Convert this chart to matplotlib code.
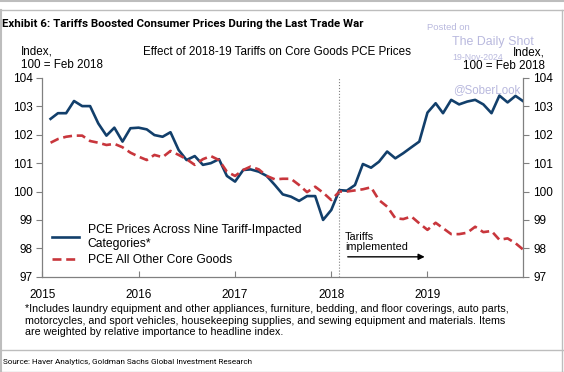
import matplotlib
matplotlib.use("Agg")
import matplotlib.pyplot as plt
from matplotlib import font_manager
import pandas as pd

# monthly data, Feb 2015 .. Jan 2020 (index, Feb 2018 = 100)
start_month = "2015-02-01"
tariff_impacted = [
    102.56, 102.76, 102.76, 103.19, 103.01, 103.01, 102.40, 101.97, 102.25, 101.76, 102.23,
    102.25, 102.19, 101.99, 101.93, 102.09, 101.46, 101.11, 101.25, 100.94, 101.00, 101.14, 100.55,
    100.35, 100.76, 100.78, 100.70, 100.55, 100.23, 99.90, 99.82, 99.67, 99.84, 99.84, 99.00,
    99.35, 100.05, 100.03, 100.23, 100.97, 100.84, 101.05, 101.41, 101.17, 101.35, 101.56, 101.76,
    102.78, 103.11, 102.76, 103.23, 103.07, 103.17, 103.23, 103.07, 102.76, 103.38, 103.14, 103.37,
    103.17,
]
other_core = [
    101.72, 101.85, 101.93, 101.97, 101.97, 101.78, 101.72, 101.64, 101.68, 101.56, 101.37,
    101.23, 101.11, 101.29, 101.21, 101.43, 101.29, 101.14, 100.94, 101.14, 101.25, 101.11, 100.70,
    100.55, 100.76, 100.88, 100.78, 100.55, 100.43, 100.45, 100.45, 100.23, 99.98, 100.17, 99.96,
    99.70, 100.00, 100.00, 100.04, 100.08, 100.15, 99.70, 99.47, 99.06, 99.03, 99.12, 98.88,
    98.65, 98.90, 98.71, 98.50, 98.50, 98.55, 98.76, 98.57, 98.61, 98.30, 98.35, 98.18,
    97.94,
]
labels = ["PCE Prices Across Nine Tariff-Impacted\nCategories*", "PCE All Other Core Goods"]
year_ticks = ["2015", "2016", "2017", "2018", "2019"]
y_ticks = [97, 98, 99, 100, 101, 102, 103, 104]
tariff_date = "2018-02-01"

dates = pd.date_range(start_month, periods=len(tariff_impacted), freq="MS")

names = {f.name for f in font_manager.fontManager.ttflist}
narrow = "Roboto" if "Roboto" in names else "DejaVu Sans"
plt.rcParams["font.family"] = ["Liberation Sans", "DejaVu Sans"]

W, H = 564, 372
fig = plt.figure(figsize=(W / 100, H / 100), dpi=100)


def px(x, y):
    return x / W, 1 - y / H


def fit(t, width_px):
    # shrink/grow a text until it covers the width seen in the reference
    r = fig.canvas.get_renderer()
    w = t.get_window_extent(r).width
    t.set_fontsize(t.get_fontsize() * width_px / w)


ax = fig.add_axes([42.4 / W, 1 - 276.7 / H, 481 / W, 198.7 / H])

blue = "#123f6b"
red = "#c8363c"
ax.plot(dates, tariff_impacted, color=blue, lw=1.9, label=labels[0])
ax.plot(dates, other_core, color=red, lw=1.9, dashes=(3.4, 1.8), label=labels[1])
ax.axvline(pd.Timestamp(tariff_date), color="#808080", lw=0.8, ls=":")

ax.set_xlim(pd.Timestamp("2015-01-01"), pd.Timestamp("2019-12-31"))
ax.set_ylim(97, 104)
ax.set_yticks(y_ticks)
ax.set_xticks([pd.Timestamp(y + "-01-01") for y in year_ticks])
ax.set_xticklabels(year_ticks)
ax.tick_params(axis="x", direction="in", length=4, color="#808080", labelsize=8.5, pad=9)
ax.tick_params(axis="y", direction="out", length=4, color="#808080", labelsize=8.5,
               left=True, right=True, labelleft=True, labelright=True, pad=3)
ax.spines["top"].set_visible(False)
for s in ["left", "right", "bottom"]:
    ax.spines[s].set_color("#808080")
    ax.spines[s].set_linewidth(0.9)

ax.legend(loc="lower left", bbox_to_anchor=(0.02, 0.055), frameon=False, fontsize=8.7,
          handlelength=2.2, handletextpad=0.75, borderpad=0, borderaxespad=0,
          labelspacing=0.35)

ax.annotate("", xy=(pd.Timestamp("2019-01-01"), 97.7), xytext=(pd.Timestamp("2018-02-22"), 97.7),
            arrowprops=dict(arrowstyle="-|>", color="black", lw=1.0, mutation_scale=9))
ax.text(pd.Timestamp("2018-02-22"), 97.86, "Tariffs\nimplemented", fontsize=7.8,
        ha="left", va="bottom", linespacing=1.05)

# headers
title = fig.text(*px(2, 24), "Exhibit 6: Tariffs Boosted Consumer Prices During the Last Trade War",
                 family=narrow, weight="bold", fontsize=9, ha="left", va="center")
fit(title, 360)
fig.text(*px(277, 52), "Effect of 2018-19 Tariffs on Core Goods PCE Prices",
         fontsize=8.4, ha="center", va="center")
fig.text(*px(21, 58.5), "Index,\n100 = Feb 2018", fontsize=8.4, ha="left", va="center",
         linespacing=1.12)

# watermark
wm = "#b9b9de"
fig.text(*px(427, 27), "Posted on", fontsize=6.8, color=wm, ha="left", va="center")
fig.text(*px(452, 41.5), "The Daily Shot", fontsize=8.9, color=wm, ha="left", va="center")
fig.text(*px(452, 58), "19-Nov-2024", fontsize=6.3, color=wm, ha="left", va="center")
fig.text(*px(453, 90), "@SoberLook", fontsize=8.3, color=wm, ha="left", va="center")

fig.text(*px(545, 59), "Index,\n100 = Feb 2018", fontsize=8.4, ha="right", va="center",
         multialignment="right", linespacing=1.12)

fig.text(*px(25, 320.5),
         "*Includes laundry equipment and other appliances, furniture, bedding, and floor coverings, auto parts,\n"
         "motorcycles, and sport vehicles, housekeeping supplies, and sewing equipment and materials. Items\n"
         "are weighted by relative importance to headline index.",
         fontsize=7.7, ha="left", va="center", linespacing=1.22)

source = fig.text(*px(3, 362), "Source: Haver Analytics, Goldman Sachs Global Investment Research",
                  family=narrow, fontsize=6.6, ha="left", va="center")
fit(source, 249)

# frame lines
border = "#bdbdbd"
fig.add_artist(plt.Line2D([0, 1], [1 - 1 / H, 1 - 1 / H], color=border, lw=1.5, transform=fig.transFigure))
fig.add_artist(plt.Line2D([0, 1], [1 - 9.5 / H, 1 - 9.5 / H], color=border, lw=1.0, transform=fig.transFigure))
fig.add_artist(plt.Line2D([0, 1], [1 - 350 / H, 1 - 350 / H], color=border, lw=1.0, transform=fig.transFigure))
fig.add_artist(plt.Line2D([0, 1], [0.5 / H, 0.5 / H], color=border, lw=1.0, transform=fig.transFigure))
fig.add_artist(plt.Line2D([1 / W, 1 / W], [0, 1 - 9.5 / H], color=border, lw=1.5, transform=fig.transFigure))
fig.add_artist(plt.Line2D([1 - 2.5 / W, 1 - 2.5 / W], [0, 1 - 9.5 / H], color=border, lw=1.0, transform=fig.transFigure))

fig.savefig("out.png", dpi=100)
